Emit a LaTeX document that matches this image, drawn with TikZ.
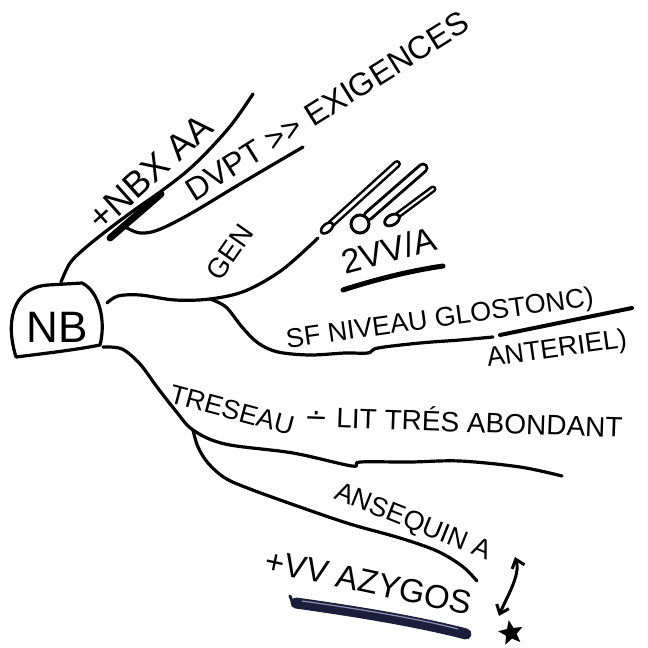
\documentclass[tikz,border=0pt]{standalone}
\usepackage{fontspec}
\setmainfont{Liberation Sans}
\newfontfamily\symfont{DejaVu Sans}
\usetikzlibrary{shapes.geometric,arrows.meta}
\definecolor{navy}{HTML}{1A1E3A}
\definecolor{navylight}{HTML}{8A90B0}
\begin{document}
\begin{tikzpicture}[x=1pt,y=-1pt,
  pen/.style={line width=3.2pt, line cap=round, line join=round},
  hand/.style={inner sep=0pt, font=\fontsize{#1}{#1}\selectfont},
  barb/.tip={Straight Barb[length=8pt,width=13pt]}]
\fill[white] (0,0) rectangle (648,648);
\useasboundingbox (0,0) rectangle (648,648);

% central node
\draw[pen] (16,357) .. controls (6,325) and (10,288) .. (48,285) -- (82,283)
  .. controls (100,292) and (106,322) .. (100,345) .. controls (75,350) and (40,354) .. cycle;
\node[hand=44] (nb) at (57,327) {NB};

% named ends
\coordinate (nbT) at (61,282);
\coordinate (nbR) at (107,303);
\coordinate (nbB) at (103,347);
\coordinate (aEnd) at (253,94);
\coordinate (bStart) at (127,228);
\coordinate (bEnd) at (303,147);
\coordinate (cEnd) at (318,238);
\coordinate (dStart) at (210,299);
\coordinate (dEnd) at (493,337);
\coordinate (eEnd) at (562,476);
\coordinate (fStart) at (193,430);
\coordinate (fEnd) at (477,581);

% branches
\draw[pen] plot[smooth, tension=0.55] coordinates {(nbT) (70,263) (84,249) (105,232) (133,211) (160,192) (186,172) (208,151) (232,124) (aEnd)};
\draw[line width=7pt, line cap=round] (110,238) -- (161,194);
\draw[pen] plot[smooth, tension=0.55] coordinates {(bStart) (140,233) (158,230) (190,214) (240,184) (bEnd)};
\draw[pen] plot[smooth, tension=0.55] coordinates {(nbR) (118,296) (140,295) (175,300) (dStart) (245,291) (282,270) (cEnd)};
\draw[pen] plot[smooth, tension=0.55] coordinates {(dStart) (226,307) (242,327) (258,343) (278,352) (310,355) (345,353) (368,353) (378,348) (420,343) (460,340) (dEnd)};
\draw[pen] plot[smooth, tension=0.55] coordinates {(nbB) (122,349) (140,364) (157,387) (175,410) (fStart) (225,444) (293,453) (352,466) (360,462) (410,462) (460,461) (520,467) (eEnd)};
\draw[pen] plot[smooth, tension=0.55] coordinates {(fStart) (198,447) (208,463) (225,478) (250,489) (300,507) (350,524) (400,538) (437,551) (462,566) (fEnd)};

% vessel sketches
\draw[line width=8pt, line cap=round] (331,224) -- (397,164);
\draw[white, line width=3pt, line cap=round] (331,224) -- (397,164);
\draw[line width=2.6pt, fill=white, rotate around={40:(327,228)}] (327,228) ellipse (7 and 4);
\draw[line width=11pt, line cap=round] (368,216) -- (423,168);
\draw[white, line width=5pt, line cap=round] (368,216) -- (423,168);
\draw[line width=3pt, fill=white] (360,224) circle (9);
\draw[line width=7pt, line cap=round] (398,215) -- (433,189);
\draw[white, line width=2pt, line cap=round] (398,215) -- (433,189);
\draw[line width=2.8pt, fill=white, rotate around={30:(392,220)}] (392,220) ellipse (8 and 5);

% underlines
\draw[line width=5pt, line cap=round] (343,290) .. controls (380,278) and (415,270) .. (443,266);
\draw[line width=4pt, line cap=round] (500,335) -- (632,308);
\draw[line width=3pt, navy, line cap=round] (290,596) -- (294,606);
\draw[line width=11pt, line cap=round, navy] (296,603) .. controls (360,612) and (420,622) .. (466,634);
\draw[line width=1.2pt, navylight] (302,601) .. controls (360,609) and (420,619) .. (458,629);

% arrow and star
\coordinate (arrT) at (515,557);
\coordinate (arrB) at (499,616);
\draw[line width=3pt, barb-barb] (arrT) .. controls (521,575) and (506,598) .. (arrB);
\node[star, star points=5, star point ratio=2.3, fill=black, minimum size=26pt, inner sep=0pt, rotate=10] (star) at (511,633) {};

% texts
\node[hand=36, rotate=42] (t1) at (150,172) {+NBX AA};
\node[hand=32, rotate=32] (t2) at (327,106) {DVPT >{}> EXIGENCES};
\node[hand=28, rotate=55] (t3) at (230,252) {GEN};
\node[hand=34, rotate=15] (t4) at (389,250) {2VV/A};
\node[hand=27, rotate=8] (t5) at (440,320) {SF NIVEAU GLOSTONC)};
\node[hand=27, rotate=8] (t6) at (557,350) {ANTERIEL)};
\node[hand=27, rotate=-15] (t7) at (232,410) {TRESEAU};
\node[hand=28, rotate=-2] (t8) at (464,420) {{\symfont ∸} LIT TRÉS ABONDANT};
\node[hand=27, rotate=-22] (t9) at (413,523) {ANSEQUIN A};
\node[hand=33, rotate=-12] (t10) at (369,582) {+VV AZYGOS};
\end{tikzpicture}
\end{document}
